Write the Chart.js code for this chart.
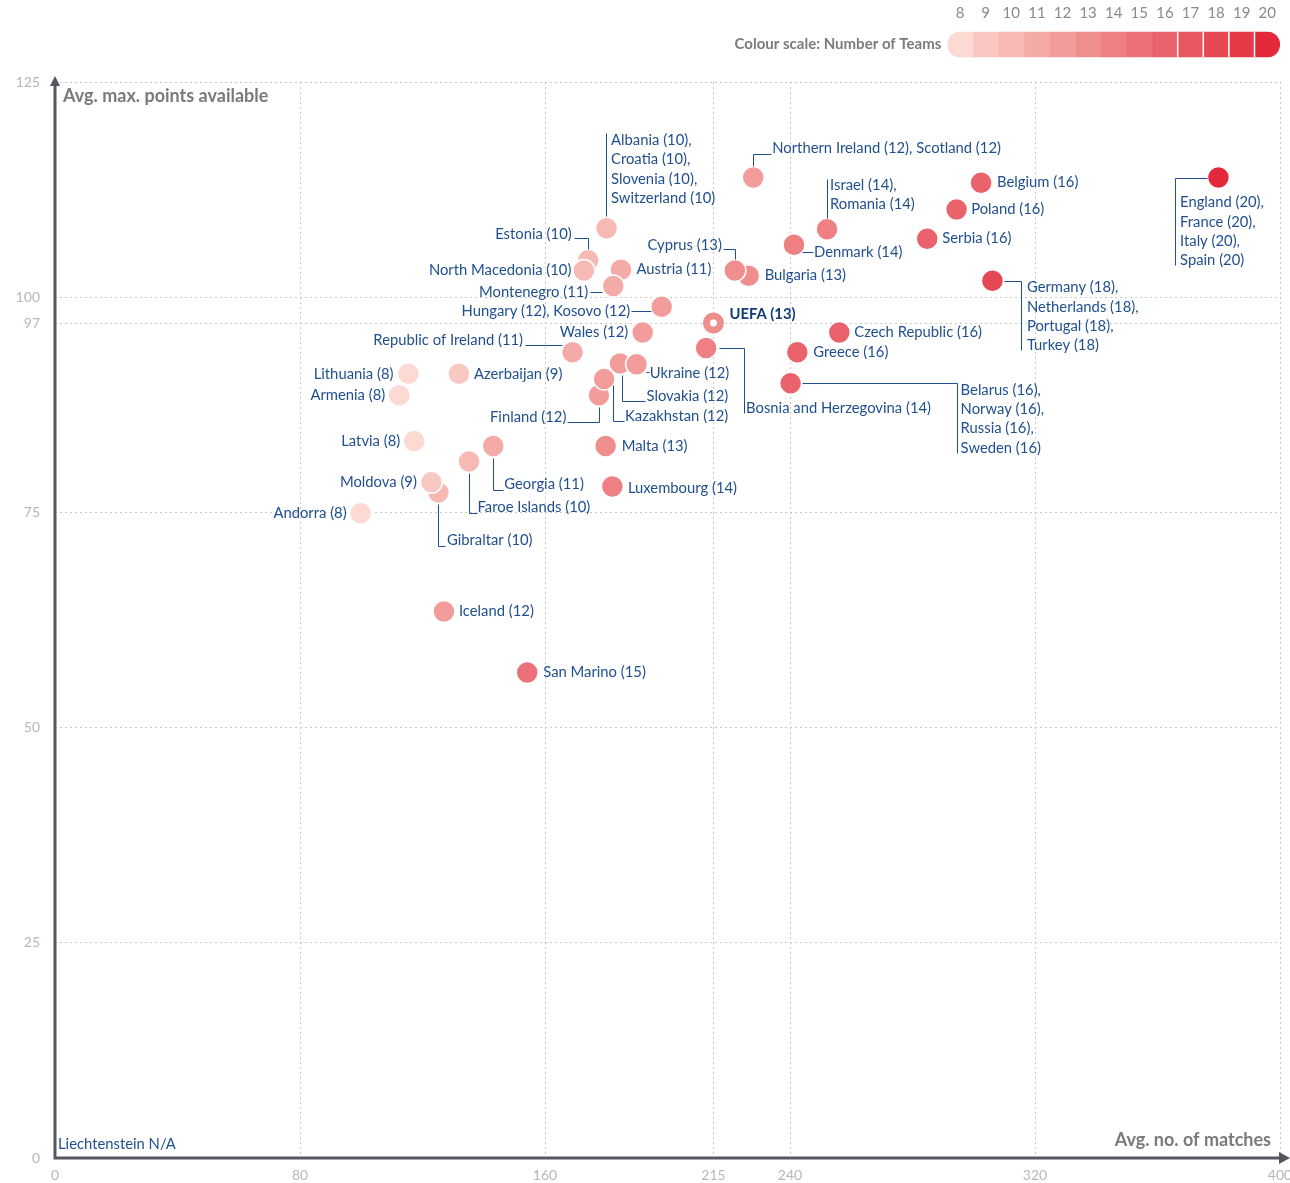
<!DOCTYPE html>
<html>
<head>
<meta charset="utf-8">
<title>Avg. no. of matches vs avg. max. points available</title>
<script src="https://cdn.jsdelivr.net/npm/chart.js@4.4.1/dist/chart.umd.min.js"></script>
<style>
  html, body { margin: 0; padding: 0; background: #fff; }
  #chart { display: block; }
</style>
</head>
<body>
<canvas id="chart" width="1290" height="1183"></canvas>
<script>
// one entry per bubble, drawn in this order (later ones sit on top)
const countries = [
  ["Andorra"], ["Lithuania"], ["Armenia"], ["Latvia"], ["Azerbaijan"],
  ["Gibraltar"], ["Moldova"], ["Faroe Islands"], ["Georgia"], ["Iceland"],
  ["San Marino"], ["Estonia"], ["North Macedonia"],
  ["Albania", "Croatia", "Slovenia", "Switzerland"],
  ["Austria"], ["Montenegro"], ["Hungary", "Kosovo"], ["Wales"],
  ["Republic of Ireland"], ["Finland"], ["Slovakia"], ["Kazakhstan"], ["Ukraine"],
  ["Malta"], ["Luxembourg"], ["Bosnia and Herzegovina"], ["UEFA"],
  ["Bulgaria"], ["Cyprus"], ["Northern Ireland", "Scotland"], ["Denmark"],
  ["Israel", "Romania"], ["Belarus", "Norway", "Russia", "Sweden"],
  ["Greece"], ["Czech Republic"], ["Serbia"], ["Poland"], ["Belgium"],
  ["Germany", "Netherlands", "Portugal", "Turkey"],
  ["England", "France", "Italy", "Spain"]
];
const avgMatches = [
  99.8, 115.4, 112.4, 117.3, 131.9,
  125.2, 122.9, 135.2, 143.1, 127.0,
  154.2, 174.1, 172.7,
  180.1,
  184.8, 182.3, 198.1, 191.9,
  169.0, 177.6, 184.5, 179.3, 189.9,
  179.8, 182.0, 212.6, 215.0,
  226.5, 222.0, 228.0, 241.3,
  252.1, 240.2,
  242.4, 256.1, 284.8, 294.4, 302.4,
  306.1,
  379.9
];
const avgMaxPoints = [
  74.9, 91.1, 88.6, 83.3, 91.1,
  77.3, 78.5, 80.9, 82.7, 63.5,
  56.4, 104.3, 103.1,
  108.0,
  103.2, 101.3, 98.9, 95.9,
  93.6, 88.6, 92.3, 90.5, 92.2,
  82.7, 78.0, 94.1, 97.0,
  102.5, 103.1, 113.9, 106.1,
  107.9, 90.0,
  93.6, 95.9, 106.8, 110.2, 113.3,
  101.9,
  113.9
];
const teams = [
  8, 8, 8, 8, 9,
  10, 9, 10, 11, 12,
  15, 10, 10,
  10,
  11, 11, 12, 12,
  11, 12, 12, 12, 12,
  13, 14, 14, 13,
  13, 13, 12, 14,
  14, 16,
  16, 16, 16, 16, 16,
  18,
  20
];
const xTicks = [0, 80, 160, 215, 240, 320, 400];
const yTicks = [0, 25, 50, 75, 97, 100, 125];
const scaleSteps = [8, 9, 10, 11, 12, 13, 14, 15, 16, 17, 18, 19, 20];
const scaleColours = [
  "#fcd9d2", "#f9c8c3", "#f6b9b4", "#f4aaa7", "#f29d9b", "#f08e8e", "#ee7f82",
  "#ec7077", "#ea626b", "#e85660", "#e64853", "#e43a46", "#e3293a"
];
const UEFA = countries.findIndex(c => c[0] === "UEFA");

// where each label goes, in px from its bubble (text end for align "right")
const placement = [
  { align: "right", dx: -14, dy: 0 },
  { align: "right", dx: -15, dy: 0 },
  { align: "right", dx: -14, dy: 0 },
  { align: "right", dx: -14, dy: 0 },
  { align: "left", dx: 15, dy: 0 },
  { align: "left", dx: 8.5, dy: 48, leader: [[0, 11.5], [0, 53], [7, 53]] },
  { align: "right", dx: -14.5, dy: 0 },
  { align: "left", dx: 8.5, dy: 46, leader: [[0, 11.5], [0, 51], [8, 51]] },
  { align: "left", dx: 11, dy: 38.5, leader: [[0, 11.5], [0, 44], [10, 44]] },
  { align: "left", dx: 15, dy: 0 },
  { align: "left", dx: 16, dy: 0 },
  { align: "right", dx: -16.5, dy: -26, leader: [[-14, -21.7], [0, -21.7], [0, -11.5]] },
  { align: "right", dx: -12.5, dy: 0 },
  { align: "left", dx: 4.5, dy: -88, leader: [[-0.5, -12], [-0.5, -95]] },
  { align: "left", dx: 15.5, dy: 0 },
  { align: "right", dx: -25, dy: 6, leader: [[-23.5, 6], [-11, 6]] },
  { align: "right", dx: -31.5, dy: 4.3, oneLine: true, leader: [[-30.5, 4.3], [-11, 4.3]] },
  { align: "right", dx: -14.5, dy: 0 },
  { align: "right", dx: -49.5, dy: -12, leader: [[-47.5, -7.5], [-10.5, -7.5]] },
  { align: "right", dx: -32.5, dy: 21.7, leader: [[0.3, 11.5], [0.3, 26.7], [-32, 26.7]] },
  { align: "left", dx: 26.5, dy: 32.7, leader: [[1.7, 11.3], [1.7, 37.4], [25, 37.4]] },
  { align: "left", dx: 21, dy: 37.4, leader: [[9.3, 6], [9.3, 42.4], [19.5, 42.4]] },
  { align: "left", dx: 13.3, dy: 9.3, leader: [[9.5, 7.7], [12.5, 7.7]] },
  { align: "left", dx: 16, dy: 0 },
  { align: "left", dx: 15.5, dy: 1.3 },
  { align: "left", dx: 40, dy: 60, leader: [[12.5, 0], [38.3, 0], [38.3, 65]] },
  { align: "left", dx: 16, dy: -8.3, bold: true },
  { align: "left", dx: 16, dy: 0 },
  { align: "right", dx: -13, dy: -25.5, leader: [[-12, -21.5], [0.2, -21.5], [0.2, -11.5]] },
  { align: "left", dx: 19, dy: -29.4, oneLine: true, leader: [[0, -11.5], [0, -24], [18, -24]] },
  { align: "left", dx: 20, dy: 7.4, leader: [[8.5, 7.4], [19, 7.4]] },
  { align: "left", dx: 3, dy: -44, leader: [[0, -11.5], [0, -50]] },
  { align: "left", dx: 170, dy: 6.7, leader: [[11.5, 0], [166.6, 0], [166.6, 69.4]] },
  { align: "left", dx: 16, dy: 0 },
  { align: "left", dx: 15, dy: 0 },
  { align: "left", dx: 15, dy: 0 },
  { align: "left", dx: 14.6, dy: 0 },
  { align: "left", dx: 16, dy: 0 },
  { align: "left", dx: 34.5, dy: 6.6, leader: [[11.5, 0], [29, 0], [29, 69.3]] },
  { align: "left", dx: -38.4, dy: 25, leader: [[-11.5, 0], [-43.2, 0], [-43.2, 87.3]] }
];

const FONT = "Lato";
const labelBlue = "#1f4f8e";
const axisGrey = "#55575e";

function colourFor(n) {
  return scaleColours[scaleSteps.indexOf(n)];
}

const points = avgMatches.map((x, i) => ({ x: x, y: avgMaxPoints[i] }));
const fills = teams.map((n, i) => (i === UEFA ? "#fff" : colourFor(n)));
const borders = teams.map((n, i) => (i === UEFA ? colourFor(n) : "#fff"));
const radii = teams.map((n, i) => (i === UEFA ? 7 : 11));
const borderWidths = teams.map((n, i) => (i === UEFA ? 7 : 1.5));

function labelLines(i) {
  const parts = countries[i].map(name => name + " (" + teams[i] + ")");
  if (placement[i].oneLine) return [parts.join(", ")];
  return parts.map((p, k) => (k < parts.length - 1 ? p + "," : p));
}

const labelPlugin = {
  id: "labels",
  afterDatasetsDraw(chart) {
    const ctx = chart.ctx;
    const meta = chart.getDatasetMeta(0);
    ctx.save();
    ctx.strokeStyle = labelBlue;
    ctx.lineWidth = 1;
    ctx.textBaseline = "middle";
    meta.data.forEach((pt, i) => {
      const p = placement[i];
      if (p.leader) {
        ctx.beginPath();
        p.leader.forEach(([lx, ly], k) => {
          const x = Math.round(pt.x + lx) + 0.5, y = Math.round(pt.y + ly) + 0.5;
          if (k === 0) ctx.moveTo(x, y); else ctx.lineTo(x, y);
        });
        ctx.stroke();
      }
      ctx.font = (p.bold ? "bold " : "") + "14.8px " + FONT;
      ctx.fillStyle = p.bold ? "#0f3b78" : labelBlue;
      ctx.textAlign = p.align;
      labelLines(i).forEach((line, k) => {
        ctx.fillText(line, pt.x + p.dx, pt.y + p.dy + k * 19.3);
      });
    });
    ctx.restore();
  }
};

const frame = {
  id: "frame",
  afterDraw(chart) {
    const ctx = chart.ctx;
    const a = chart.chartArea;
    ctx.save();
    // axes with arrow heads
    ctx.strokeStyle = axisGrey;
    ctx.fillStyle = axisGrey;
    ctx.lineWidth = 3;
    ctx.beginPath();
    ctx.moveTo(a.left, a.bottom + 1.5);
    ctx.lineTo(a.left, a.top);
    ctx.moveTo(a.left - 1.5, a.bottom);
    ctx.lineTo(a.right, a.bottom);
    ctx.stroke();
    ctx.beginPath();
    ctx.moveTo(a.left, a.top - 6);
    ctx.lineTo(a.left - 5, a.top + 4);
    ctx.lineTo(a.left + 5, a.top + 4);
    ctx.closePath();
    ctx.fill();
    ctx.beginPath();
    ctx.moveTo(a.right + 10, a.bottom);
    ctx.lineTo(a.right - 1, a.bottom - 6);
    ctx.lineTo(a.right - 1, a.bottom + 6);
    ctx.closePath();
    ctx.fill();

    // axis titles
    ctx.fillStyle = "#7a7a7a";
    ctx.font = "bold 18px " + FONT;
    ctx.textBaseline = "middle";
    ctx.textAlign = "left";
    ctx.fillText("Avg. max. points available", a.left + 8, a.top + 14);
    ctx.textAlign = "right";
    ctx.fillText("Avg. no. of matches", a.right - 9, a.bottom - 18);

    ctx.fillStyle = labelBlue;
    ctx.font = "14.8px " + FONT;
    ctx.textAlign = "left";
    ctx.fillText("Liechtenstein N/A", a.left + 3, a.bottom - 14);

    // colour scale
    const segW = 25.6, barX = 947.3, barY = 31.5, barH = 26;
    const barW = segW * scaleSteps.length;
    ctx.save();
    ctx.beginPath();
    ctx.roundRect(barX, barY, barW, barH, 13);
    ctx.clip();
    scaleColours.forEach((c, k) => {
      ctx.fillStyle = c;
      ctx.fillRect(barX + k * segW, barY, segW + 0.5, barH);
    });
    ctx.strokeStyle = "#fff";
    ctx.lineWidth = 1.5;
    ctx.beginPath();
    for (let k = 9; k < scaleSteps.length; k++) {
      ctx.moveTo(barX + k * segW, barY);
      ctx.lineTo(barX + k * segW, barY + barH);
    }
    ctx.stroke();
    ctx.restore();

    ctx.fillStyle = "#8a8a8a";
    ctx.font = "15px " + FONT;
    ctx.textAlign = "center";
    scaleSteps.forEach((s, k) => {
      ctx.fillText(String(s), barX + k * segW + segW / 2, 13);
    });
    ctx.fillStyle = "#7b7b7b";
    ctx.font = "bold 15px " + FONT;
    ctx.textAlign = "right";
    ctx.fillText("Colour scale: Number of Teams", barX - 6, 44);
    ctx.restore();
  }
};

const tickFont = { family: FONT, size: 14 };

new Chart(document.getElementById("chart"), {
  type: "scatter",
  data: {
    datasets: [{
      data: points,
      pointRadius: radii,
      pointHoverRadius: radii,
      pointBackgroundColor: fills,
      pointBorderColor: borders,
      pointBorderWidth: borderWidths,
      pointHoverBorderWidth: borderWidths
    }]
  },
  options: {
    responsive: false,
    animation: false,
    devicePixelRatio: 1,
    layout: { autoPadding: false, padding: { top: 82, right: 10, left: 0, bottom: 0 } },
    plugins: { legend: { display: false }, tooltip: { enabled: false } },
    scales: {
      x: {
        type: "linear",
        min: 0,
        max: 400,
        afterBuildTicks: s => { s.ticks = xTicks.map(v => ({ value: v })); },
        afterFit: s => { s.height = 25; s.paddingLeft = 0; s.paddingRight = 0; },
        grid: { color: "#c8c8c8", lineWidth: 1, drawTicks: false },
        border: { display: false, dash: [2, 3] },
        ticks: { color: "#b3b8c0", font: tickFont, padding: 9, maxRotation: 0 }
      },
      y: {
        type: "linear",
        min: 0,
        max: 125,
        afterBuildTicks: s => { s.ticks = yTicks.map(v => ({ value: v })); },
        afterFit: s => { s.width = 55; s.paddingTop = 0; s.paddingBottom = 0; },
        grid: { color: "#c8c8c8", lineWidth: 1, drawTicks: false },
        border: { display: false, dash: [2, 3] },
        ticks: { color: "#b3b8c0", font: tickFont, padding: 15 }
      }
    }
  },
  plugins: [labelPlugin, frame]
});
</script>
</body>
</html>
